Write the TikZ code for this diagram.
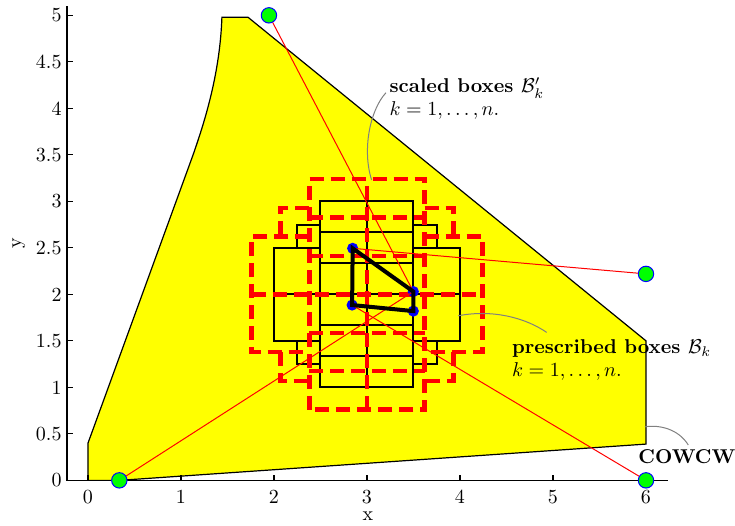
\documentclass[tikz,border=0pt]{standalone}
\usepackage{amsmath}
\definecolor{regionyellow}{RGB}{255,255,0}
\definecolor{ptgreen}{RGB}{0,255,0}
\definecolor{ptblue}{RGB}{0,0,255}
\definecolor{boxred}{RGB}{255,0,0}
\newcommand\bxpat{
 (2.5,1) rectangle (3.5,3)
 (2.5,2.5) -- (2,2.5) -- (2,1.5) -- (2.5,1.5)
 (3.5,2.5) -- (4,2.5) -- (4,1.5) -- (3.5,1.5)
 (2.5,2.75) -- (2.25,2.75) -- (2.25,2.5)
 (2.25,1.5) -- (2.25,1.25) -- (2.5,1.25)
 (3.5,2.75) -- (3.75,2.75) -- (3.75,2.5)
 (3.75,1.5) -- (3.75,1.25) -- (3.5,1.25)
 (2.5,2.6667) -- (3.5,2.6667)
 (2.5,2.3333) -- (3.5,2.3333)
 (2.5,1.6667) -- (3.5,1.6667)
 (2.5,1.3333) -- (3.5,1.3333)
 (2,2) -- (4,2)
 (3,1) -- (3,3)
}
\begin{document}
\begin{tikzpicture}[x=46.5pt,y=46.5pt,
  region/.style={fill=regionyellow, draw=black, line width=0.6pt},
  bbox/.style={draw=black, line width=1pt},
  sbox/.style={draw=boxred, line width=2.2pt, dash pattern=on 7pt off 3.5pt},
  axisline/.style={draw=black, line width=0.6pt},
  ticklab/.style={inner sep=0pt},
  guide/.style={draw=boxred, line width=0.5pt},
  pathline/.style={draw=black, line width=2pt},
  bluedot/.style={circle, fill=ptblue, inner sep=0pt, minimum size=5.6pt},
  greendot/.style={circle, fill=ptgreen, draw=ptblue, line width=0.5pt, inner sep=0pt, minimum size=7.7pt},
  annot/.style={draw=gray, line width=0.5pt},
  lbl/.style={inner sep=0pt, anchor=base west}
]
\useasboundingbox (-0.946,-0.481) rectangle (6.957,5.165);

% feasible region
\path[region] (0,0) -- (0,0.4) -- (1.13,3.5) .. controls (1.27,3.9) and (1.42,4.4) .. (1.44,4.98)
  -- (1.72,4.98) -- (6,1.5) -- (6,0.39) -- (0.34,0) -- cycle;

% axes
\draw[axisline] (-0.226,5.1) -- (-0.226,0) -- (6.237,0);
\foreach \xv in {0,1,2,3,4,5,6} {
  \draw[axisline] (\xv,0) -- (\xv,0.06);
  \node[ticklab] (xl\xv) at (\xv,-0.176) {\xv};
}
\foreach \yv/\nm in {0/a,0.5/b,1/c,1.5/d,2/e,2.5/f,3/g,3.5/h,4/i,4.5/j,5/k} {
  \draw[axisline] (-0.226,\yv) -- (-0.166,\yv);
  \node[ticklab,anchor=east] (yl\nm) at (-0.28,\yv) {\yv};
}
\node[ticklab] (xlab) at (3.01,-0.39) {x};
\node[ticklab,rotate=90] (ylab) at (-0.742,2.552) {y};

% prescribed boxes
\draw[bbox] \bxpat;
% scaled boxes
\begin{scope}[shift={(3,2)},scale=1.24,shift={(-3,-2)}]
\draw[sbox] \bxpat;
\end{scope}

% points
\node[bluedot] (b1) at (2.846,2.495) {};
\node[bluedot] (b2) at (3.498,2.03) {};
\node[bluedot] (b3) at (3.498,1.82) {};
\node[bluedot] (b4) at (2.84,1.885) {};

\node[greendot] (g1) at (0.337,0) {};
\node[greendot] (g2) at (1.946,5.0) {};
\node[greendot] (g3) at (6.0,2.22) {};
\node[greendot] (g4) at (6.0,0) {};

\draw[guide] (g2) -- (b2.center);
\draw[guide] (g3) -- (b1.center);
\draw[guide] (g1) -- (b2.center);
\draw[guide] (g4) -- (b4.center);

\draw[pathline] (b1.center) -- (b2.center) -- (b3.center) -- (b4.center) -- cycle;

% annotations
\node[lbl,font=\bfseries] (t1) at (3.239,4.172) {scaled boxes $\mathcal{B}'_k$};
\node[lbl] (t2) at (3.239,3.928) {$k=1,\ldots,n.$};
\node[lbl,font=\bfseries] (t3) at (4.556,1.366) {prescribed boxes $\mathcal{B}_k$};
\node[lbl] (t4) at (4.556,1.118) {$k=1,\ldots,n.$};
\node[lbl,font=\bfseries] (t5) at (5.915,0.183) {COWCW};

\coordinate (s1) at (3.204,4.168);
\coordinate (s2) at (3.05,3.229);
\coordinate (p1) at (4.932,1.591);
\coordinate (p2) at (3.982,1.770);
\coordinate (c1) at (6.455,0.380);
\coordinate (c2) at (5.989,0.576);
\draw[annot] (s1) .. controls (3.032,3.982) and (2.946,3.552) .. (s2);
\draw[annot] (p1) .. controls (4.7,1.75) and (4.35,1.84) .. (p2);
\draw[annot] (c1) .. controls (6.35,0.55) and (6.15,0.6) .. (c2);
\end{tikzpicture}
\end{document}
